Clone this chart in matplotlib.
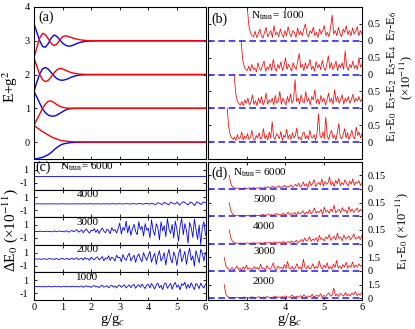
import numpy as np
import matplotlib
matplotlib.use('Agg')
import matplotlib.pyplot as plt

plt.rcParams['font.family'] = ['Liberation Serif', 'DejaVu Serif']
plt.rcParams['mathtext.fontset'] = 'stix'
plt.rcParams['axes.unicode_minus'] = False
plt.rcParams['xtick.direction'] = 'in'
plt.rcParams['ytick.direction'] = 'in'
plt.rcParams['font.size'] = 7.5
plt.rcParams['axes.linewidth'] = 0.8

# ---- panel (a): E+g^2 vs g/gc ----
g_a = [0, 0.1, 0.2, 0.3, 0.4, 0.5, 0.6, 0.7, 0.8, 0.9, 1.0, 1.1, 1.2, 1.3, 1.4,
       1.5, 1.6, 1.8, 2.0, 2.2, 6.0]
blue0 = [-0.5, -0.49, -0.47, -0.45, -0.41, -0.37, -0.31, -0.23, -0.16, -0.10, -0.06,
         -0.04, -0.025, -0.015, -0.01, -0.006, -0.003, 0, 0, 0, 0]
red0 = [0.5, 0.43, 0.37, 0.31, 0.26, 0.21, 0.16, 0.12, 0.09, 0.06, 0.04, 0.03, 0.02,
        0.014, 0.01, 0.006, 0.004, 0, 0, 0, 0]
red1 = [0.5, 0.67, 0.83, 1.0, 1.13, 1.21, 1.22, 1.17, 1.11, 1.06, 1.03, 1.015, 1.007,
        1.003, 1.0, 1.0, 1.0, 1, 1, 1, 1]
blue1 = [1.5, 1.33, 1.15, 0.98, 0.87, 0.8, 0.77, 0.77, 0.8, 0.85, 0.9, 0.95, 0.98,
         0.99, 1.0, 1.0, 1.0, 1, 1, 1, 1]
blue2 = [1.5, 1.78, 2.02, 2.17, 2.21, 2.16, 2.06, 1.96, 1.88, 1.84, 1.83, 1.85, 1.88,
         1.92, 1.95, 1.97, 1.985, 1.995, 2, 2, 2]
red2 = [2.5, 2.24, 2.0, 1.85, 1.79, 1.83, 1.93, 2.05, 2.14, 2.18, 2.17, 2.13, 2.09,
        2.06, 2.04, 2.025, 2.015, 2.005, 2, 2, 2]
red3 = [2.5, 2.8, 3.08, 3.22, 3.18, 3.06, 2.92, 2.86, 2.9, 3.02, 3.12, 3.15, 3.13,
        3.1, 3.07, 3.05, 3.03, 3.01, 3.0, 3, 3]
blue3 = [3.5, 3.25, 3.0, 2.83, 2.81, 2.92, 3.08, 3.17, 3.13, 3.03, 2.93, 2.87, 2.84,
         2.85, 2.88, 2.92, 2.95, 2.985, 2.995, 3.0, 3]

# ---- panel (b): gaps (x1e-11), N_trun = 1000 ----
gap_names = ['E$_1$-E$_0$', 'E$_3$-E$_2$', 'E$_5$-E$_4$', 'E$_7$-E$_6$']
gap_start = [2.5, 2.68, 2.86, 3.02]
gap10 = [1.0, 0.45, 0.22, 0.13,
         0.08, 0.15, 0.05, 0.22, 0.1, 0.12, 0.3, 0.06, 0.18, 0.1, 0.25, 0.08, 0.14, 0.35,
         0.1, 0.05, 0.2, 0.12, 0.28, 0.08, 0.16, 0.4, 0.1, 0.2, 0.06, 0.3, 0.12, 0.6, 0.15,
         0.08, 0.25, 0.18, 0.1, 0.32, 0.05, 0.2, 0.14, 0.38, 0.1, 0.22, 0.08, 0.28, 0.12,
         0.18, 0.42, 0.1, 0.15, 0.06, 0.25, 0.3, 0.1, 0.2, 0.08, 0.35, 0.15, 0.12, 0.22,
         0.05, 0.28, 0.84, 0.2, 0.12, 0.3, 0.1, 0.74, 0.18, 0.08, 0.25, 0.35, 0.12, 0.2,
         0.06, 0.3, 0.55, 0.15, 0.1, 0.22, 0.4, 0.12, 0.28, 0.08, 0.2, 0.35, 0.15, 0.1,
         0.45, 0.2, 0.3, 0.12, 0.25]
gap32 = [1.0, 0.45, 0.22, 0.14,
         0.1, 0.2, 0.08, 0.25, 0.15, 0.3, 0.1, 0.18, 0.4, 0.12, 0.22, 0.08, 0.3, 0.15,
         0.35, 0.1, 0.2, 0.45, 0.12, 0.25, 0.18, 0.3, 0.1, 0.38, 0.15, 0.22, 0.5, 0.12,
         0.3, 0.2, 0.1, 0.35, 0.18, 0.42, 0.15, 0.25, 0.85, 0.2, 0.3, 0.12, 0.4, 0.22,
         0.15, 0.5, 0.2, 0.3, 0.1, 0.35, 0.25, 0.55, 0.15, 0.28, 0.12, 0.38, 0.2, 0.3,
         0.1, 0.25, 0.45, 0.18, 0.3, 0.12, 0.55, 0.2, 0.35, 0.15, 0.28, 0.4, 0.12, 0.3,
         0.2, 0.35, 0.15, 0.25, 0.42, 0.18, 0.3, 0.22, 0.35, 0.2, 0.28]
gap54 = [1.0, 0.45, 0.24, 0.15,
         0.12, 0.25, 0.1, 0.3, 0.15, 0.2, 0.08, 0.35, 0.18, 0.12, 0.28, 0.4, 0.1, 0.22,
         0.15, 0.32, 0.12, 0.45, 0.2, 0.1, 0.3, 0.18, 0.38, 0.12, 0.25, 0.5, 0.15, 0.3,
         0.2, 0.1, 0.35, 0.22, 0.15, 0.4, 0.62, 0.2, 0.3, 0.12, 0.35, 0.18, 0.28, 0.45,
         0.15, 0.25, 0.1, 0.38, 0.2, 0.3, 0.15, 0.42, 0.22, 0.12, 0.3, 0.56, 0.18, 0.35,
         0.15, 0.25, 0.4, 0.12, 0.3, 0.2, 0.35, 0.15, 0.7, 0.25, 0.12, 0.3, 0.2, 0.4,
         0.18, 0.28, 0.15, 0.5, 0.22, 0.3]
gap76 = [1.0, 0.45, 0.24, 0.15,
         0.12, 0.28, 0.1, 0.2, 0.35, 0.15, 0.08, 0.25, 0.4, 0.12, 0.2, 0.3, 0.1, 0.45,
         0.18, 0.25, 0.12, 0.35, 0.2, 0.1, 0.3, 0.15, 0.42, 0.2, 0.12, 0.3, 0.25, 0.1,
         0.38, 0.18, 0.28, 0.15, 0.35, 0.5, 0.2, 0.12, 0.3, 0.22, 0.4, 0.15, 0.25, 0.1,
         0.35, 0.2, 0.3, 0.45, 0.15, 0.25, 0.12, 0.38, 0.76, 0.2, 0.3, 0.15, 0.4, 0.22,
         0.12, 0.35, 0.25, 0.45, 0.18, 0.3, 0.15, 0.38, 0.2, 0.28, 0.42, 0.15, 0.3, 0.2]

# ---- panel (c): Delta E0 (x1e-11) for several N_trun ----
c_trun = ['6000', '4000', '3000', '2000', '1000']
dE6000 = [0.0, 0.0]
dE4000 = [0.0, 0.0, 0.01, 0.0, 0.0, -0.01, 0.0, 0.01, 0.0, 0.0, 0.0, -0.01, 0.0, 0.01,
          0.0, 0.0, -0.01, 0.0, 0.0, 0.01, 0.0, 0.0, -0.01, 0.01, 0.0, 0.0, 0.02, -0.01,
          0.0, 0.01, 0.0, -0.02, 0.02, 0.0, 0.01, -0.02, 0.03, 0.0, -0.01, 0.03, 0.01,
          -0.03, 0.02, 0.04, -0.02, 0.0, 0.05, -0.03, 0.02, 0.06, -0.05, 0.03, 0.08, -0.04,
          0.1, 0.02, -0.12, 0.18, 0.05, -0.1, 0.22, 0.08, -0.15, 0.25, 0.1, -0.05, 0.3,
          -0.2, 0.15, 0.35, 0.05, -0.15, 0.28, 0.1, -0.25, 0.32, 0.12, -0.1, 0.3, 0.15]
dE3000 = [0.0, 0.03, -0.02, 0.01, 0.05, -0.04, 0.02, 0.0, 0.06, -0.03, 0.04, -0.06,
          0.02, 0.08, -0.05, 0.03, 0.1, -0.02, 0.05, -0.08, 0.12, 0.02, -0.1, 0.07, 0.15,
          -0.05, 0.1,
          0.3, -0.1, 0.05, 0.25, -0.2, 0.15, 0.4, 0.0, -0.25, 0.2, 0.1, 0.45, -0.15, 0.3,
          -0.3, 0.2, 0.55, 0.05, -0.2, 0.35, 0.15, -0.35, 0.6, 0.1, 0.3, -0.25, 0.45,
          1.3, -0.4, 0.6, 0.2, 1.6, -0.2, 0.9, -0.6, 0.4, 1.1, 0.0, -0.5, 1.5, 0.3, 0.8,
          -0.7, 1.2, 0.2,
          0.5, -1.0, 1.8, 0.2, -0.6, 1.2, 0.6, -1.3, 1.5, 0.1, 0.9, -0.8, 2.0, 0.4, -0.3,
          1.1, -1.0, 1.6, 0.3, -1.5, 0.8, 2.0, -0.5, 1.2, 0.2, -1.8, 1.4, 0.6, -0.9, 1.9,
          0.3, -1.2, 1.0, -2.0, 0.7, 1.5, -0.6]
dE2000 = [0.0, 0.02, -0.03, 0.05, 0.0, -0.04, 0.06, 0.02, -0.05, 0.03, 0.08, -0.02,
          0.04, -0.06, 0.1, 0.0, -0.08, 0.06, 0.12, -0.04, 0.03, 0.1, -0.1, 0.05, 0.14,
          -0.06, 0.08,
          0.2, -0.1, 0.05, 0.15, -0.15, 0.25, 0.0, 0.1, -0.2, 0.3, 0.05, -0.1, 0.2, 0.35,
          -0.15, 0.1, 0.4, -0.25, 0.15, 0.05, 0.5, -0.2, 0.3, 0.1, -0.3, 0.6, 0.2,
          0.3, -0.4, 0.7, 0.1, -0.2, 0.5, 0.9, -0.3, 0.2, 0.6, -0.5, 0.4, 0.8, 0.0, -0.4,
          1.0, 0.3, -0.2,
          0.6, 1.2, -0.5, 0.3, 0.9, -0.8, 0.5, 1.3, -0.3, 0.2, 1.0, -0.9, 0.6, 1.5, 0.0,
          -0.6, 1.1, 0.4, -1.0, 0.8, 1.6, -0.4, 0.3, 1.2, -0.8, 0.7, 1.7, -0.2, 0.5, -1.1,
          1.3, 0.4, -0.6, 1.5, 0.9, -0.3, 1.0]
dE1000 = [0.0, 0.03, -0.02, 0.05, 0.01, -0.04, 0.04, 0.0, -0.03, 0.06, 0.02, -0.05,
          0.03, 0.07, -0.02, 0.01, 0.05, -0.06, 0.04, 0.08, -0.03, 0.02, 0.06, -0.05,
          0.09, 0.01, -0.04,
          0.1, -0.06, 0.03, 0.12, -0.1, 0.05, 0.15, -0.04, 0.08, -0.12, 0.1, 0.18, -0.05,
          0.06, -0.15, 0.12, 0.2, -0.08, 0.05, 0.15, -0.18, 0.1, 0.22, -0.06, 0.12, -0.2,
          0.15,
          0.25, -0.1, 0.1, 0.3, -0.2, 0.05, 0.28, -0.15, 0.2, 0.35, -0.25, 0.1, 0.3, -0.1,
          0.4, 0.05, -0.3, 0.25,
          0.35, -0.2, 0.5, 0.1, -0.35, 0.3, 0.55, -0.15, 0.2, -0.45, 0.4, 0.6, -0.25, 0.15,
          0.5, -0.4, 0.3, 0.65, -0.1, 0.25, -0.5, 0.45, 0.2, 0.7, -0.3, 0.35, -0.2, 0.6,
          0.1, -0.45, 0.5, 0.25, -0.3, 0.55, 0.1, -0.2, 0.4]

# ---- panel (d): E1-E0 (x1e-11) for several N_trun ----
d_trun = ['2000', '3000', '4000', '5000', '6000']
d_start = [2.42, 2.42, 2.55, 2.55, 2.55]
d_scale = [3.0, 3.0, 0.3, 0.3, 0.3]
d_ticklab = ['1.5', '1.5', '0.15', '0.15', '0.15']
gap2000 = [3.0, 1.0, 0.4, 0.2,
           0.1, 0.2, 0.08, 0.15, 0.25, 0.1, 0.05, 0.2, 0.3, 0.12, 0.18, 0.08, 0.25, 0.35,
           0.15, 0.1, 0.22, 0.4, 0.12, 0.2, 0.3, 0.15, 0.45, 0.1, 0.25, 0.2, 0.35, 0.5,
           0.15, 0.3, 0.22, 0.4, 0.15, 0.55, 0.3, 0.2, 0.45, 0.7, 0.25, 0.35, 0.5, 0.2,
           0.6, 0.3, 0.8, 0.4, 0.25, 0.55, 0.35, 0.9, 0.3, 0.5, 0.7, 0.4, 1.0, 0.35, 0.6,
           0.45, 0.8, 1.2, 0.5, 0.7, 2.25, 0.6, 0.9, 0.4, 1.1, 0.7, 0.5, 1.3, 0.6, 0.9,
           0.5, 1.2, 0.8, 1.5, 0.6, 1.0, 0.7, 1.3]
gap3000 = [3.0, 1.2, 0.6, 0.4,
           0.3, 0.8, 0.2, 0.5, 1.1, 0.35, 0.6, 0.2, 0.9, 0.4, 1.3, 0.3, 0.7, 0.5, 0.25,
           1.0, 0.45, 0.8, 0.3, 1.5, 0.5, 0.7, 0.2, 1.2, 0.6, 0.4, 0.9, 1.8, 0.5, 0.3,
           1.1, 0.6, 0.8, 0.35, 1.4, 0.5, 2.1, 0.7, 0.4, 1.0, 0.3, 0.8, 1.6, 0.5, 0.9,
           0.3, 2.6, 0.8, 0.5, 1.2, 0.4, 0.7, 1.6, 0.5, 1.0, 0.6, 2.2, 0.9, 0.4, 1.3, 0.7,
           1.8, 0.5, 1.0, 0.4, 1.5, 0.8, 2.3, 0.6, 1.1, 0.5, 1.4, 0.9, 1.9, 0.6, 1.2, 0.8,
           2.0, 0.7, 1.3, 0.9, 1.6, 1.0, 1.3]
gap4000 = [0.3, 0.12, 0.05, 0.025,
           0.005, 0.01, 0.006, 0.012, 0.008, 0.004, 0.01, 0.015, 0.006, 0.01, 0.008,
           0.018, 0.01, 0.006, 0.014, 0.02, 0.008, 0.012, 0.025, 0.01, 0.018, 0.03, 0.012,
           0.02, 0.04, 0.015, 0.025, 0.035, 0.012, 0.05, 0.02, 0.03, 0.045, 0.015, 0.06,
           0.025, 0.04, 0.07, 0.02, 0.05, 0.09, 0.04, 0.12, 0.06, 0.08, 0.15, 0.05, 0.1,
           0.07, 0.13, 0.04, 0.18, 0.09, 0.11, 0.06, 0.15, 0.1, 0.2, 0.07, 0.12, 0.16,
           0.08, 0.23, 0.11, 0.14, 0.06, 0.19, 0.1, 0.13, 0.17, 0.08, 0.14, 0.21, 0.1,
           0.12, 0.16, 0.09, 0.18]
gap5000 = [0.3, 0.12, 0.05, 0.025,
           0.008, 0.015, 0.01, 0.02, 0.005, 0.012, 0.018, 0.008, 0.025, 0.01, 0.015, 0.02,
           0.03, 0.01, 0.022, 0.015, 0.03, 0.04, 0.012, 0.025, 0.05, 0.02, 0.035, 0.015,
           0.045, 0.06, 0.025, 0.04, 0.02, 0.07, 0.03, 0.05, 0.09, 0.03, 0.06, 0.04, 0.08,
           0.025, 0.1, 0.05, 0.07, 0.12, 0.04, 0.09, 0.06, 0.14, 0.05, 0.1, 0.18, 0.06,
           0.11, 0.08, 0.15, 0.04, 0.2, 0.09, 0.13, 0.06, 0.16, 0.1, 0.24, 0.07, 0.12,
           0.15, 0.08, 0.19, 0.11, 0.14, 0.06, 0.21, 0.1, 0.16, 0.08, 0.13, 0.18, 0.09,
           0.15, 0.11]
gap6000 = [0.3, 0.12, 0.05, 0.025,
           0.01, 0.02, 0.008, 0.015, 0.01, 0.005, 0.02, 0.012, 0.008, 0.025, 0.01, 0.015,
           0.03, 0.008, 0.02, 0.012, 0.035, 0.02, 0.01, 0.04, 0.025, 0.05, 0.015, 0.03,
           0.06, 0.02, 0.045, 0.03, 0.07, 0.025, 0.05, 0.035, 0.08, 0.03, 0.06, 0.04,
           0.09, 0.03, 0.06, 0.1, 0.05, 0.13, 0.04, 0.08, 0.15, 0.06, 0.11, 0.03, 0.17,
           0.07, 0.12, 0.2, 0.05, 0.1, 0.14, 0.08, 0.22, 0.06, 0.16, 0.1, 0.13, 0.26, 0.08,
           0.15, 0.05, 0.19, 0.11, 0.23, 0.07, 0.14, 0.09, 0.2, 0.12, 0.06, 0.17, 0.1,
           0.22, 0.08, 0.15, 0.12, 0.18, 0.07, 0.14]

W, H = 415.0, 329.0


def box(l, t, r, b):
    return [l / W, 1 - b / H, (r - l) / W, (b - t) / H]


def style(ax):
    ax.tick_params(which='both', top=True, right=True, length=2.5, width=0.6,
                   labelsize=7.5, pad=3)


RED = '#ff0000'
BLUE = '#0000ff'
DASH = '#2a2aff'

fig = plt.figure(figsize=(W / 100, H / 100), dpi=100)

# (a)
axa = fig.add_axes(box(34, 7, 205.5, 159))
for yv, c in [(blue0, BLUE), (blue1, BLUE), (blue2, BLUE), (blue3, BLUE),
              (red0, RED), (red1, RED), (red2, RED), (red3, RED)]:
    axa.plot(g_a, yv, color=c, lw=1.0)
axa.set_xlim(0, 6)
axa.set_ylim(-0.5, 4)
axa.set_xticks(range(7))
axa.set_xticklabels([])
axa.set_yticks(range(5))
style(axa)
axa.text(0.17, 3.7, '(a)', fontsize=10, va='center')

# (b)
axb = fig.add_axes(box(208, 7, 362, 159))
for k, vals in enumerate([gap10, gap32, gap54, gap76]):
    x = np.linspace(gap_start[k], 6, len(vals))
    axb.plot(x, k + np.array(vals), color=RED, lw=0.55)
for k in range(4):
    axb.axhline(k, color=DASH, lw=1.2, ls=(0, (4, 2.2)))
    axb.text(6.77, k + 0.45, gap_names[k], rotation=90, fontsize=9,
             ha='center', va='center')
axb.text(7.15, 1.9, '(×10$^{-11}$)', rotation=90, fontsize=9, ha='center', va='center')
axb.set_xlim(2, 6)
axb.set_ylim(-0.5, 4)
axb.set_xticks([3, 4, 5])
axb.set_xticklabels([])
axb.set_yticks([0, 0.5, 1, 1.5, 2, 2.5, 3, 3.5])
style(axb)
axb.yaxis.tick_right()
axb.tick_params(left=True, labelleft=False, labelright=True, pad=4)
axb.set_yticklabels(['0', '0.5'] * 4)
axb.text(2.08, 3.65, '(b)', fontsize=10, va='center')
axb.text(3.12, 3.74, 'N$_{\\rm trun}$= 1000', fontsize=8, va='center')

# (c)
c_series = [dE6000, dE4000, dE3000, dE2000, dE1000]
top, bot = 162.0, 300.0
hs = (bot - top) / 5
for i, vals in enumerate(c_series):
    ax = fig.add_axes(box(34, top + i * hs, 205.5, top + (i + 1) * hs))
    ax.plot(np.linspace(0, 6, len(vals)), vals, color=BLUE, lw=0.6)
    ax.set_xlim(0, 6)
    ax.set_ylim(-2.05, 2.2)
    ax.set_yticks([1, -1])
    ax.set_yticklabels(['1', '-1'])
    ax.set_xticks(range(7))
    style(ax)
    ax.tick_params(axis='y', pad=4)
    if i < 4:
        ax.set_xticklabels([])
    else:
        ax.tick_params(axis='x', pad=2.5)
    if i == 0:
        ax.text(0.05, 1.45, '(c)', fontsize=10, va='center')
        ax.text(0.9, 1.45, 'N$_{\\rm trun}$= ' + c_trun[i], fontsize=8, va='center')
    else:
        ax.text(1.48, 1.45, c_trun[i], fontsize=8, va='center')

# (d)
axd = fig.add_axes(box(208, 162, 362, 300))
d_series = [gap2000, gap3000, gap4000, gap5000, gap6000]
for k, vals in enumerate(d_series):
    x = np.linspace(d_start[k], 6, len(vals))
    axd.plot(x, k + np.array(vals) / d_scale[k] * 0.5, color=RED, lw=0.55)
    axd.axhline(k, color=DASH, lw=1.2, ls=(0, (4, 2.2)))
axd.set_xlim(2, 6)
axd.set_ylim(-0.06, 4.98)
axd.set_xticks([3, 4, 5, 6])
axd.set_yticks([0, 0.5, 1, 1.5, 2, 2.5, 3, 3.5, 4, 4.5])
style(axd)
axd.yaxis.tick_right()
axd.tick_params(left=True, labelleft=False, labelright=True)
axd.tick_params(axis='y', pad=4)
axd.tick_params(axis='x', pad=2.5)
labs = []
for t in d_ticklab:
    labs += ['0', t]
axd.set_yticklabels(labs)
axd.text(2.08, 4.58, '(d)', fontsize=10, va='center')
axd.text(2.65, 4.58, 'N$_{\\rm trun}$= ' + d_trun[4], fontsize=8, va='center')
for k, yy in zip([3, 2, 1, 0], [3.6, 2.62, 1.71, 0.62]):
    axd.text(3.17, yy, d_trun[k], fontsize=8, va='center')

# axis labels
fig.text(10 / W, 1 - 87 / H, 'E+g$^2$', rotation=90, fontsize=11, ha='center', va='center')
fig.text(10 / W, 1 - 230 / H, 'ΔE$_0$ (×10$^{-11}$)', rotation=90, fontsize=11,
         ha='center', va='center')
fig.text(113 / W, 1 - 320 / H, 'g/g$_c$', fontsize=10.5, ha='center', va='center')
fig.text(290 / W, 1 - 320 / H, 'g/g$_c$', fontsize=10.5, ha='center', va='center')
fig.text(402 / W, 1 - 231 / H, 'E$_1$-E$_0$ (×10$^{-11}$)', rotation=90, fontsize=9,
         ha='center', va='center')

fig.savefig('out.png', dpi=100)
